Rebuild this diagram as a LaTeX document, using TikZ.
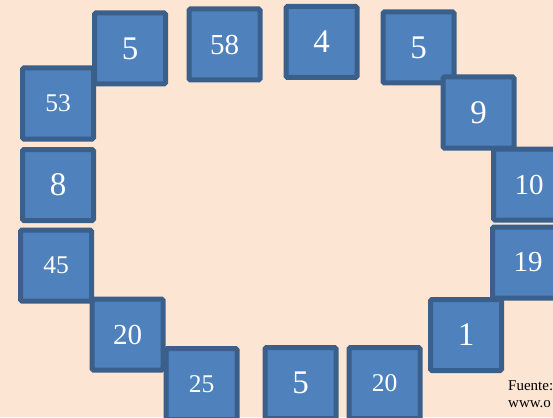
\documentclass[tikz,border=0pt]{standalone}
\usepackage{fontspec}
\setmainfont{Liberation Serif}
\usepackage{xcolor}
\usepackage{tikz}
\definecolor{bgpeach}{HTML}{FDE5D4}
\definecolor{boxfill}{HTML}{4F81BD}
\definecolor{boxline}{HTML}{3A5F8B}

\begin{document}
\begin{tikzpicture}[
    x=1pt, y=-1pt,
    num/.style={
        draw=boxline,
        fill=boxfill,
        line width=5pt,
        rounded corners=1.5pt,
        minimum size=71pt,
        inner sep=0pt,
        text=white
    },
    numbig/.style={num, font=\fontsize{33}{36}\selectfont},
    nummid/.style={num, font=\fontsize{29}{32}\selectfont},
    numsmall/.style={num, font=\fontsize{25.5}{28}\selectfont},
    src/.style={font=\fontsize{15}{17}\selectfont, inner sep=0pt, anchor=base west}
]
\useasboundingbox (0,0) rectangle (553,417);
\clip (0,0) rectangle (553,417);
\fill[bgpeach] (0,0) rectangle (553,417);

\node[numsmall] (n53) at (58,103.5) {53};
\node[numbig] (n5a) at (130,48.5) {5};
\node[nummid] (n58) at (224.5,44.5) {58};
\node[numbig] (n4) at (321.5,42) {4};
\node[numbig] (n5b) at (418.5,47.5) {5};
\node[numbig] (n9) at (478.5,112.5) {9};
\node[nummid] (n10) at (529,184.5) {10};
\node[nummid] (n19) at (528,262.5) {19};
\node[numbig] (n1) at (466,335) {1};
\node[numsmall] (n20b) at (384.5,383) {20};
\node[numbig] (n5c) at (300.5,383) {5};
\node[numbig] (n8) at (58,185) {8};
\node[numsmall] (n45) at (56,265.5) {45};
\node[nummid] (n20a) at (127.5,334.5) {20};
\node[numsmall] (n25) at (201.5,384) {25};

\node[src] (fuente) at (508,390) {Fuente:};
\node[src] (web) at (508,407) {www.o};
\end{tikzpicture}
\end{document}
